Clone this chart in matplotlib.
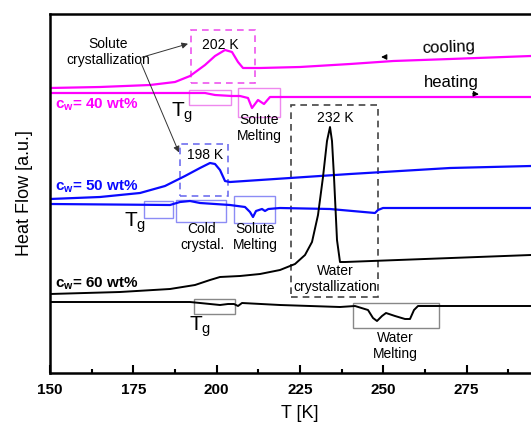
import matplotlib.pyplot as plt
from matplotlib.patches import Rectangle

# temperatures [K] and heat flow [a.u.]
t_40_cool = [150, 165, 180, 187.5, 192, 196.5, 199.5, 202.5, 204.6, 206.4, 207.9, 213, 225, 240, 253, 270, 294.3, 300]
hf_40_cool = [285, 286, 288, 291, 297, 308, 317, 323, 321, 311, 305, 305, 306, 309, 312, 314, 317, 317.5]
t_40_heat = [150, 180, 196.5, 199.5, 204.6, 207, 209.4, 210.6, 212.4, 214.2, 216, 300]
hf_40_heat = [280, 280, 280, 278, 277, 277, 275, 265, 273, 269, 276, 276]

t_50_cool = [150, 165, 177, 184.5, 190.5, 195, 198, 199.5, 201, 202.5, 204, 213, 240, 270, 294.3, 300]
hf_50_cool = [174, 176, 180, 187, 197, 205, 210, 209, 203, 192, 191, 193, 199, 205, 207, 207.5]
t_50_heat = [150, 186, 189, 192, 195, 204, 208.5, 210, 210.9, 211.8, 213.6, 214.5, 215.5, 219, 234, 247.5, 248.4, 249.9, 300]
hf_50_heat = [169, 168, 171, 172, 170, 168, 166, 161, 156, 162, 164, 162, 164, 165, 164, 160, 163, 165, 165]

t_60_cool = [150, 171, 186, 193.5, 198, 201, 207, 213, 219, 223.5, 226.5, 228.6, 230.4, 231.9, 233.1, 234,
             234.6, 235.2, 236.1, 237, 238.5, 294.3, 300]
hf_60_cool = [79, 81, 84, 88, 93, 96, 97, 99, 103, 109, 118, 131, 158, 196, 232, 246,
              232, 196, 133, 111, 111, 118, 118.5]
t_60_heat = [150, 192, 198, 201, 203.4, 205.2, 206.4, 207.6, 219, 237, 241.5, 245.4, 246.9, 248.1,
             249.6, 250.8, 253.5, 256.5, 258, 259.2, 260.4, 300]
hf_60_heat = [71, 71, 69, 68, 69, 69, 67, 70, 68, 66, 67, 63, 55, 52, 57, 60, 57, 54, 54, 63, 67, 67]

MAG = '#ff00ff'
BLU = '#0a0aff'

plt.rcParams['font.family'] = ['Liberation Sans', 'DejaVu Sans']
plt.rcParams['mathtext.fontset'] = 'custom'
plt.rcParams['mathtext.rm'] = 'Liberation Sans'
plt.rcParams['mathtext.bf'] = 'Liberation Sans:bold'
plt.rcParams['mathtext.it'] = 'Liberation Sans:italic'

fig = plt.figure(figsize=(5.31, 4.25), dpi=100)
ax = fig.add_axes([50 / 531, 52 / 425, 500 / 531, 359 / 425])

ax.plot(t_40_cool, hf_40_cool, color=MAG, lw=1.6)
ax.plot(t_40_heat, hf_40_heat, color=MAG, lw=1.6)
ax.plot(t_50_cool, hf_50_cool, color=BLU, lw=1.6)
ax.plot(t_50_heat, hf_50_heat, color=BLU, lw=1.6)
ax.plot(t_60_cool, hf_60_cool, color='black', lw=1.4)
ax.plot(t_60_heat, hf_60_heat, color='black', lw=1.4)


def box(x0, x1, y0, y1, color, ls='-', lw=1.0):
    ax.add_patch(Rectangle((x0, y0), x1 - x0, y1 - y0, fill=False, edgecolor=color,
                           linestyle=ls, lw=lw))


# 40 wt%
box(192.3, 211.5, 290, 343, '#ee55ee', ls=(0, (4, 3)), lw=1.2)
box(191.7, 204.3, 268, 283, '#ee88ee')
box(206.4, 219, 256, 285, '#ee88ee')
# 50 wt%
box(189, 203.4, 177, 229, '#6f6fef', ls=(0, (4, 3)), lw=1.2)
box(178.2, 186.9, 155, 172, '#8c8cf5')
box(187.8, 202.8, 151, 173, '#8c8cf5')
box(205.2, 217.5, 150, 177, '#8c8cf5')
# 60 wt%
box(222.3, 248.4, 76, 268, '#444444', ls=(0, (4, 3)), lw=1.2)
box(193.2, 205.5, 59, 74, '#888888')
box(240.9, 266.7, 45, 70, '#888888')

ax.text(201, 328, '202 K', ha='center', va='center', fontsize=10)
ax.text(196.5, 218, '198 K', ha='center', va='center', fontsize=10)
ax.text(235.5, 255, '232 K', ha='center', va='center', fontsize=10)

ax.text(167.5, 321, 'Solute\ncrystallization', ha='center', va='center', fontsize=10, linespacing=1.2)
ax.annotate('', xy=(192.2, 330), xytext=(176.8, 315),
            arrowprops=dict(arrowstyle='-|>', color='#333333', lw=0.7, mutation_scale=9))
ax.annotate('', xy=(189, 218), xytext=(176.8, 314),
            arrowprops=dict(arrowstyle='-|>', color='#333333', lw=0.7, mutation_scale=9))

ax.text(151.5, 268, r'$\mathbf{c_{w}}$= 40 wt%', color=MAG, fontsize=11, fontweight='bold', va='center')
ax.text(151.5, 186, r'$\mathbf{c_{w}}$= 50 wt%', color=BLU, fontsize=11, fontweight='bold', va='center')
ax.text(151.5, 89, r'$\mathbf{c_{w}}$= 60 wt%', color='black', fontsize=11, fontweight='bold', va='center')

ax.text(189.5, 260, r'$\mathregular{T_g}$', fontsize=15, ha='center', va='center')
ax.text(175.5, 150, r'$\mathregular{T_g}$', fontsize=15, ha='center', va='center')
ax.text(195, 46, r'$\mathregular{T_g}$', fontsize=15, ha='center', va='center')

ax.text(212.7, 245, 'Solute\nMelting', ha='center', va='center', fontsize=10, linespacing=1.2)
ax.text(195.6, 136, 'Cold\ncrystal.', ha='center', va='center', fontsize=10, linespacing=1.2)
ax.text(211.5, 136, 'Solute\nMelting', ha='center', va='center', fontsize=10, linespacing=1.2)
ax.text(235.5, 94, 'Water\ncrystallization', ha='center', va='center', fontsize=10, linespacing=1.2)
ax.text(253.5, 27, 'Water\nMelting', ha='center', va='center', fontsize=10, linespacing=1.2)

ax.text(269.5, 325, 'cooling', ha='center', va='center', fontsize=12, rotation=2)
ax.text(270.5, 290, 'heating', ha='center', va='center', fontsize=12)
ax.annotate('', xy=(248.5, 316), xytext=(251.5, 316),
            arrowprops=dict(arrowstyle='-|>', color='black', lw=0.8, mutation_scale=8))
ax.annotate('', xy=(279.5, 278.5), xytext=(276, 279.5),
            arrowprops=dict(arrowstyle='-|>', color='black', lw=0.8, mutation_scale=8))

ax.set_xlim(150, 300)
ax.set_ylim(0, 359)
ax.set_xticks([150, 175, 200, 225, 250, 275])
ax.set_xticks([162.5, 187.5, 212.5, 237.5, 262.5, 287.5], minor=True)
ax.set_yticks([])
ax.tick_params(axis='x', which='major', direction='in', length=6, width=1.5, pad=7)
ax.tick_params(axis='x', which='minor', direction='in', length=3, width=1.5)
for lab in ax.get_xticklabels():
    lab.set_fontweight('bold')
    lab.set_fontsize(11)
for sp in ax.spines.values():
    sp.set_linewidth(1.8)

ax.set_xlabel('T [K]', fontsize=13, labelpad=6)
ax.set_ylabel('Heat Flow [a.u.]', fontsize=13, labelpad=12)

fig.savefig('out.png', dpi=100)
